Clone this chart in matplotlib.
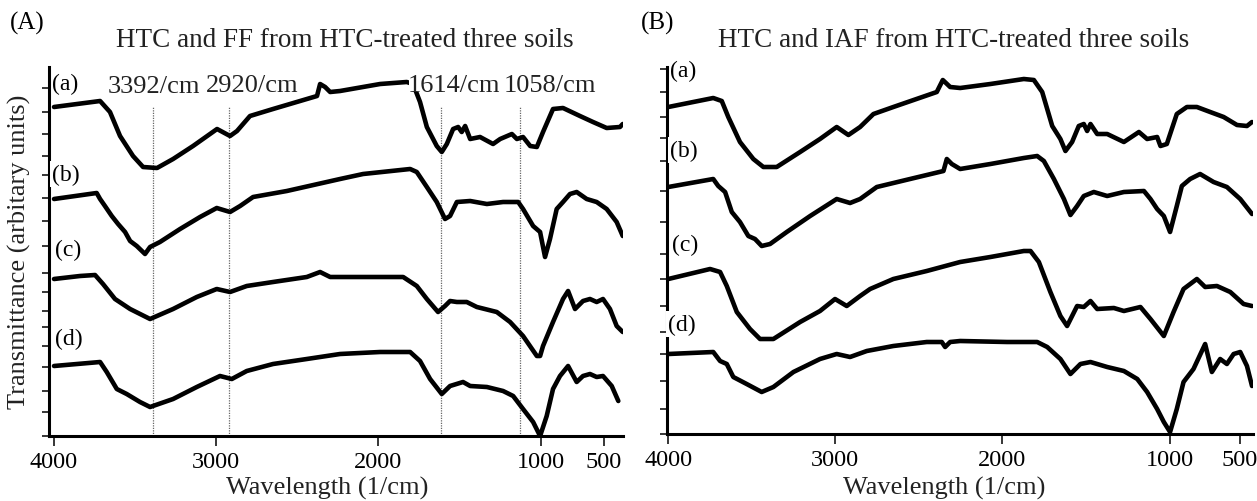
import numpy as np
import matplotlib
matplotlib.use("Agg")
import matplotlib.pyplot as plt
from matplotlib.ticker import NullLocator
from matplotlib.patches import Rectangle

plt.rcParams['font.family'] = ['Liberation Serif', 'DejaVu Serif']

# ---- data: wavenumber (1/cm) and transmittance (arbitrary units, offset traces) ----
# (A) HTC and FF
a_wn_a = [4000, 3716, 3655, 3593, 3513, 3451, 3365, 3266, 3143, 2995, 2915, 2872, 2792, 2650, 2379, 2360,
          2329, 2298, 2237, 1990, 1826, 1787, 1744, 1702, 1641, 1610, 1579, 1540, 1509, 1487, 1466, 1435,
          1374, 1294, 1250, 1178, 1147, 1109, 1065, 1024, 982, 903, 824, 690, 587, 479, 374, 352]
a_tr_a = [329, 335, 324, 300, 280, 269, 268, 277, 290, 307, 300, 305, 320, 327, 340, 352,
          349, 344, 345, 352, 354, 352, 334, 309, 290, 284, 292, 307, 309, 304, 310, 297,
          299, 292, 297, 302, 297, 299, 290, 289, 304, 327, 328, 320, 314, 308, 309, 312]
a_wn_b = [4000, 3737, 3716, 3686, 3644, 3605, 3562, 3531, 3490, 3439, 3408, 3347, 3223, 3100, 2997, 2915,
          2853, 2773, 2565, 2237, 2095, 1805, 1764, 1702, 1641, 1590, 1559, 1517, 1435, 1332, 1232, 1139,
          1109, 1047, 1004, 966, 927, 874, 824, 769, 716, 637, 558, 479, 400, 352]
a_tr_b = [237, 243, 237, 230, 220, 212, 204, 195, 190, 182, 189, 194, 207, 219, 228, 224,
          230, 239, 245, 257, 262, 267, 264, 249, 234, 217, 220, 234, 235, 232, 234, 234,
          227, 210, 204, 179, 197, 227, 234, 242, 244, 237, 234, 227, 214, 200]
a_wn_c = [4000, 3840, 3747, 3698, 3624, 3531, 3408, 3266, 3120, 2997, 2915, 2812, 2650, 2442, 2360, 2298,
          1848, 1764, 1702, 1633, 1590, 1559, 1517, 1456, 1394, 1271, 1189, 1109, 1024, 1004, 982, 903,
          824, 784, 729, 666, 611, 558, 508, 453, 400, 352]
a_tr_c = [157, 160, 161, 152, 137, 127, 117, 127, 139, 147, 144, 150, 154, 159, 164, 159,
          159, 150, 137, 124, 130, 135, 134, 134, 129, 124, 114, 100, 80, 80, 90, 114,
          137, 145, 127, 135, 137, 134, 137, 127, 110, 104]
a_wn_d = [4000, 3716, 3675, 3613, 3552, 3470, 3408, 3266, 3120, 2977, 2904, 2812, 2650, 2442, 2237, 1990,
          1805, 1744, 1682, 1610, 1559, 1479, 1435, 1332, 1232, 1170, 1109, 1047, 1004, 953, 903, 848,
          784, 716, 666, 611, 558, 508, 439, 387]
a_tr_d = [70, 74, 64, 47, 42, 34, 29, 37, 49, 60, 57, 65, 72, 77, 82, 84,
          84, 75, 57, 42, 50, 54, 50, 49, 45, 40, 27, 14, 0, 20, 47, 60,
          70, 54, 60, 62, 59, 60, 50, 35]

# (B) HTC and IAF
b_wn_a = [4000, 3731, 3680, 3641, 3571, 3491, 3431, 3351, 3211, 3092, 2992, 2922, 2852, 2772, 2653, 2393,
          2357, 2313, 2253, 2072, 1872, 1812, 1762, 1702, 1653, 1623, 1583, 1543, 1513, 1493, 1473, 1433,
          1373, 1273, 1183, 1134, 1074, 1054, 1016, 948, 876, 805, 710, 614, 519, 448, 412]
b_tr_a = [327, 336, 333, 317, 292, 275, 267, 267, 282, 295, 307, 299, 307, 320, 327, 342,
          354, 347, 346, 350, 355, 354, 342, 308, 295, 283, 292, 308, 310, 303, 310, 300,
          300, 292, 302, 295, 297, 288, 290, 320, 327, 327, 322, 317, 309, 308, 312]
b_wn_b = [4000, 3731, 3701, 3660, 3620, 3571, 3521, 3481, 3441, 3391, 3291, 3151, 2992, 2912, 2852, 2752,
          2553, 2353, 2333, 2303, 2253, 2072, 1872, 1792, 1752, 1692, 1632, 1593, 1553, 1513, 1453, 1373,
          1273, 1153, 1114, 1074, 1034, 996, 948, 912, 853, 782, 686, 591, 496, 412]
b_tr_b = [247, 255, 248, 242, 222, 212, 198, 195, 188, 190, 202, 218, 235, 231, 235, 247,
          255, 263, 275, 270, 265, 270, 276, 278, 273, 255, 235, 219, 228, 238, 242, 238,
          242, 243, 235, 225, 218, 202, 228, 248, 255, 260, 252, 247, 235, 220]
b_wn_c = [4000, 3750, 3690, 3650, 3590, 3511, 3451, 3371, 3211, 3092, 3002, 2932, 2852, 2792, 2653, 2453,
          2253, 2072, 1872, 1832, 1782, 1713, 1653, 1613, 1553, 1513, 1473, 1433, 1333, 1273, 1174, 1114,
          1034, 971, 900, 805, 746, 662, 567, 472, 412]
b_tr_c = [155, 165, 162, 148, 122, 105, 95, 95, 112, 123, 135, 128, 138, 145, 155, 163,
          172, 177, 183, 183, 172, 142, 118, 108, 128, 127, 133, 125, 126, 123, 127, 115,
          98, 122, 145, 155, 147, 148, 142, 130, 128]
b_wn_d = [4000, 3731, 3690, 3650, 3611, 3531, 3441, 3371, 3251, 3092, 2992, 2912, 2812, 2653, 2453, 2363,
          2343, 2313, 2253, 1972, 1872, 1792, 1732, 1653, 1593, 1533, 1473, 1373, 1273, 1193, 1134, 1074,
          1034, 996, 948, 900, 829, 746, 698, 639, 591, 543, 496, 448, 412]
b_tr_d = [80, 82, 73, 70, 57, 50, 42, 47, 62, 75, 80, 77, 83, 88, 92, 92,
          87, 92, 93, 92, 92, 92, 87, 75, 60, 70, 72, 67, 63, 55, 42, 25,
          12, 2, 25, 52, 65, 90, 62, 75, 70, 80, 82, 68, 48]

xticks = [4000, 3000, 2000, 1000, 500]
trace_labels = ['(a)', '(b)', '(c)', '(d)']
peak_labels = ['3392/cm', '2920/cm', '1614/cm', '1058/cm']
peak_lines = [3392, 2920, 1614, 1130]   # where the guide lines sit in the figure

W, H = 1257, 502
fig = plt.figure(figsize=(W / 100, H / 100), dpi=100)


def fx(px):
    return px / W


def fy(py):
    return 1 - py / H


def make_scale(r):
    # axis below 1000/cm is compressed in the original figure
    def fwd(x):
        x = np.asarray(x, float)
        return np.where(x >= 1000, x, 1000 + (x - 1000) * r)

    def inv(y):
        y = np.asarray(y, float)
        return np.where(y >= 1000, y, 1000 + (y - 1000) / r)
    return fwd, inv


def setup(ax, r, xlim, ylim, yticks):
    ax.set_xscale('function', functions=make_scale(r))
    ax.set_xlim(*xlim)
    ax.set_ylim(*ylim)
    ax.set_xticks(xticks)
    ax.set_xticklabels([str(t) for t in xticks], fontsize=17.5)
    ax.xaxis.set_minor_locator(NullLocator())
    ax.set_yticks(yticks)
    ax.tick_params(axis='y', labelleft=False, direction='out', length=5, width=1.1)
    ax.tick_params(axis='x', direction='out', length=7, width=1.1, pad=3.5)
    for s in ['top', 'right']:
        ax.spines[s].set_visible(False)
    for s in ['left', 'bottom']:
        ax.spines[s].set_linewidth(2.2)
    ax.patch.set_alpha(0)


axA = fig.add_axes([fx(49.3), fy(437), fx(623 - 49.3), (437 - 68) / H])
axB = fig.add_axes([fx(667.3), fy(435), fx(1253 - 667.3), (435 - 68) / H])

setup(axA, 0.78, (4029, 350), (0, 369),
      [0, 24, 45, 69, 90, 109, 125, 144, 163, 190, 215, 238, 261, 280, 302, 324, 348])
setup(axB, 0.84, (4006, 405), (0, 367),
      [0, 25, 53, 80, 102, 128, 155, 180, 212, 243, 273, 296, 317, 342, 365])

for x in peak_lines:
    axA.vlines(x, 0, 330, colors='0.4', linestyles=(0, (1, 1)), linewidth=0.9, zorder=1)

line_kw = dict(color='black', lw=3.3, solid_joinstyle='round', solid_capstyle='round', zorder=2)
for wn, tr in [(a_wn_a, a_tr_a), (a_wn_b, a_tr_b), (a_wn_c, a_tr_c), (a_wn_d, a_tr_d)]:
    axA.plot(wn, tr, **line_kw)
for wn, tr in [(b_wn_a, b_tr_a), (b_wn_b, b_tr_b), (b_wn_c, b_tr_c), (b_wn_d, b_tr_d)]:
    axB.plot(wn, tr, **line_kw)

# panel letters and titles
fig.text(fx(10), fy(30), '(A)', fontsize=18, va='baseline', ha='left')
fig.text(fx(641), fy(30), '(B)', fontsize=18, va='baseline', ha='left')
fig.text(fx(345), fy(47), 'HTC and FF from HTC-treated three soils', fontsize=19.5,
         va='baseline', ha='center', color='#222222')
fig.text(fx(954), fy(47), 'HTC and IAF from HTC-treated three soils', fontsize=19.5,
         va='baseline', ha='center', color='#222222')

# white patch behind the 1614/cm label, as in the original
fig.patches.append(Rectangle((fx(409), fy(93)), fx(90), 17 / H, transform=fig.transFigure,
                             facecolor='white', edgecolor='none', zorder=4))

# peak labels
for lab, cx, base in zip(peak_labels, [154, 252, 454, 550], [93, 92, 92, 92]):
    fig.text(fx(cx), fy(base), lab, fontsize=19, va='baseline', ha='center', color='#222222',
             zorder=5)

# trace labels; the lower ones sit on a white box that breaks the axis line
box = dict(facecolor='white', edgecolor='none', pad=1.5)
for i, (lab, px, py) in enumerate(zip(trace_labels, [52, 52, 55, 55], [84, 175, 250, 339])):
    fig.text(fx(px), fy(py), lab, fontsize=17, va='center', ha='left',
             bbox=box if i > 0 else None, zorder=5)
for i, (lab, px, py) in enumerate(zip(trace_labels, [670, 670, 672, 668], [71, 151, 245, 325])):
    fig.text(fx(px), fy(py), lab, fontsize=17, va='center', ha='left',
             bbox=box if i > 0 else None, zorder=5)

# axis labels
fig.text(fx(19), fy(252), 'Transmittance (arbitary units)', fontsize=19, rotation=90,
         va='center', ha='center', color='#222222')
fig.text(fx(327), fy(495), 'Wavelength (1/cm)', fontsize=19, va='baseline', ha='center',
         color='#222222')
fig.text(fx(944), fy(495), 'Wavelength (1/cm)', fontsize=19, va='baseline', ha='center',
         color='#222222')

fig.savefig('out.png', dpi=100, facecolor='white')
